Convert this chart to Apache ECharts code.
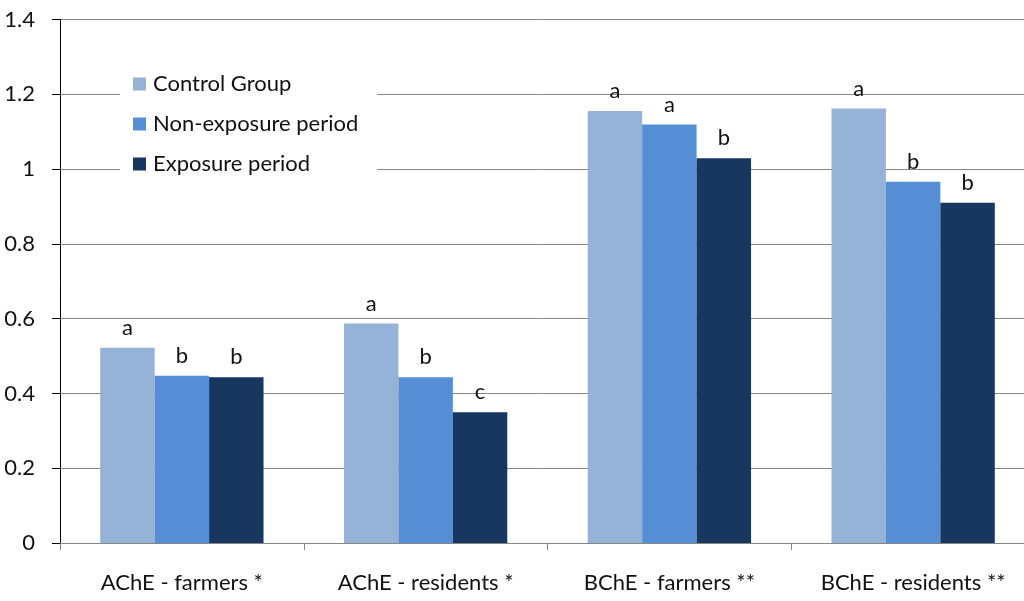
<!DOCTYPE html>
<html>
<head>
<meta charset="utf-8">
<script src="https://cdn.jsdelivr.net/npm/echarts@6/dist/echarts.min.js"></script>
<style>
html,body{margin:0;padding:0;background:#fff;}
#chart{width:1024px;height:601px;}
</style>
</head>
<body>
<div id="chart"></div>
<script>
var categories = ['AChE - farmers *', 'AChE - residents *', 'BChE - farmers **', 'BChE - residents **'];
var seriesNames = ['Control Group', 'Non-exposure period', 'Exposure period'];
var controlValues = [0.522, 0.587, 1.155, 1.162];
var nonExposureValues = [0.447, 0.443, 1.119, 0.966];
var exposureValues = [0.443, 0.350, 1.029, 0.910];
var controlLetters = ['a', 'a', 'a', 'a'];
var nonExposureLetters = ['b', 'b', 'a', 'b'];
var exposureLetters = ['b', 'c', 'b', 'b'];
var yTicks = [0, 0.2, 0.4, 0.6, 0.8, 1, 1.2, 1.4];

var FONT = 'Lato';
var colors = ['#95B3D7', '#558ED5', '#17375E'];

function mkSeries(name, values, letters, color) {
  return {
    name: name,
    type: 'bar',
    data: values,
    barGap: '0%',
    barCategoryGap: '33%',
    itemStyle: { color: color },
    label: {
      show: true,
      position: 'top',
      distance: 9,
      fontFamily: FONT,
      fontSize: 22,
      color: '#111',
      formatter: function (p) { return letters[p.dataIndex]; }
    }
  };
}

var chart = echarts.init(document.getElementById('chart'), null, { renderer: 'canvas' });
chart.setOption({
  animation: false,
  backgroundColor: '#fff',
  grid: { left: 60, width: 975, top: 19.5, bottom: 58, outerBoundsMode: 'none', containLabel: false },
  legend: {
    orient: 'vertical',
    left: 120,
    top: 60,
    padding: [13, 19, 12, 13],
    backgroundColor: '#fff',
    itemWidth: 13,
    itemHeight: 13,
    itemGap: 18,
    icon: 'rect',
    textStyle: { fontFamily: FONT, fontSize: 22, color: '#111', lineHeight: 22, padding: [0, 0, 0, 2] },
    data: seriesNames
  },
  xAxis: {
    type: 'category',
    data: categories,
    axisLine: { lineStyle: { color: '#868686', width: 1 } },
    axisTick: { show: true, length: 7, lineStyle: { color: '#868686' } },
    axisLabel: { fontFamily: FONT, fontSize: 22, color: '#111', margin: 29 }
  },
  yAxis: {
    type: 'value',
    min: 0,
    max: 1.4,
    interval: 0.2,
    axisLine: { show: true, lineStyle: { color: '#000', width: 1 } },
    axisTick: { show: true, length: 8, lineStyle: { color: '#000' } },
    axisLabel: {
      fontFamily: FONT, fontSize: 22, color: '#111', margin: 25,
      formatter: function (v) {
        for (var i = 0; i < yTicks.length; i++) { if (Math.abs(yTicks[i] - v) < 1e-6) return String(yTicks[i]); }
        return '';
      }
    },
    splitLine: { show: true, lineStyle: { color: '#868686', width: 1 } }
  },
  series: [
    mkSeries(seriesNames[0], controlValues, controlLetters, colors[0]),
    mkSeries(seriesNames[1], nonExposureValues, nonExposureLetters, colors[1]),
    mkSeries(seriesNames[2], exposureValues, exposureLetters, colors[2])
  ]
});
</script>
</body>
</html>
